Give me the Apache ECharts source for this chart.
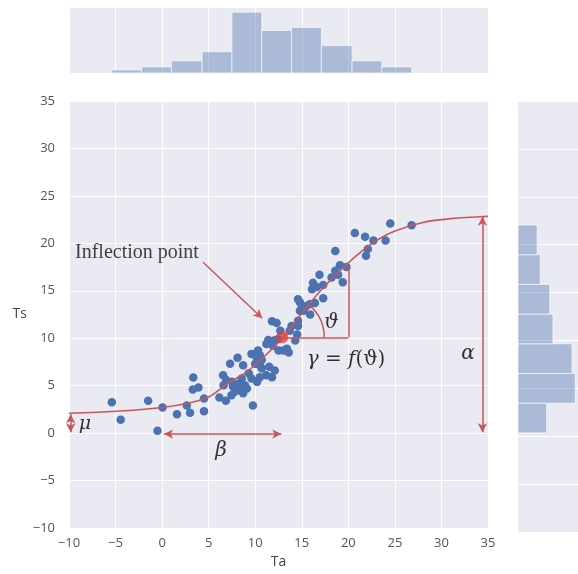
<!DOCTYPE html>
<html>
<head>
<meta charset="utf-8">
<script src="https://cdn.jsdelivr.net/npm/echarts@6/dist/echarts.min.js"></script>
<style>
  html, body { margin: 0; padding: 0; background: #fff; }
</style>
</head>
<body>
<div id="main" style="width: 578px; height: 574px"></div>
<script>
// scatter points (Ta, Ts)
const taValues = [-5.4, -4.45, -1.5, -0.5, 0.05, 1.6, 2.65, 3.0, 3.35, 3.3,
  3.9, 4.5, 4.5, 6.15, 6.85, 7.45, 6.55, 7.3, 8.1, 8.7,
  9.75, 6.9, 6.6, 7.5, 7.6, 8.2, 8.55, 7.8, 8.4, 8.7,
  9.1, 8.9, 9.3, 9.6, 10.15, 10.5, 10.7, 10.3, 10.7, 10.5,
  10.2, 9.6, 10.0, 10.5, 11.5, 11.2, 11.8, 12.1, 11.2, 11.9,
  11.4, 12.0, 12.4, 11.8, 12.3, 12.7, 12.5, 13.0, 13.6, 13.4,
  14.3, 13.7, 13.9, 14.5, 14.6, 14.8, 14.8, 15.5, 14.6, 15.0,
  15.2, 15.9, 16.4, 15.9, 14.6, 16.2, 16.1, 16.6, 17.3, 17.3,
  16.9, 18.6, 19.1, 19.8, 18.6, 18.9, 19.4, 18.2, 20.7, 21.8,
  22.7, 24.0, 22.1, 21.9, 24.5, 26.8];
const tsValues = [3.25, 1.4, 3.4, 0.25, 2.7, 2.0, 2.9, 2.15, 5.85, 4.6,
  4.8, 3.65, 2.3, 3.75, 3.4, 4.0, 6.1, 7.3, 7.95, 7.15,
  2.9, 5.6, 5.05, 5.4, 4.9, 5.2, 5.75, 4.35, 4.5, 4.2,
  4.7, 5.05, 6.3, 8.35, 8.0, 8.2, 7.7, 8.7, 6.8, 5.9,
  5.4, 5.75, 7.3, 7.15, 7.0, 6.1, 5.9, 6.6, 9.4, 9.2,
  9.8, 9.75, 9.9, 11.8, 11.6, 10.8, 8.7, 8.7, 8.5, 8.9,
  9.75, 10.8, 11.3, 10.4, 11.85, 12.9, 13.8, 13.4, 14.1, 13.2,
  12.9, 12.5, 13.7, 13.6, 11.3, 15.85, 15.15, 15.4, 15.6, 14.2,
  16.7, 19.2, 17.7, 17.5, 17.1, 16.7, 15.9, 16.4, 21.1, 20.7,
  20.3, 20.3, 19.4, 18.7, 22.1, 21.9];

// fitted sigmoid, points
const curveTa = [-10, -5, 0, 3, 5, 7, 9, 11, 13, 15, 17, 19, 21, 23, 25, 28, 31, 35];
const curveTs = [2.1, 2.3, 2.7, 3.2, 3.8, 5.2, 6.4, 8.1, 10.1, 12.6, 15.0, 17.0, 18.8, 20.3, 21.3, 22.2, 22.6, 22.85];

// marginal histograms
const topBinEdges = [-5.4, -2.2, 1.0, 4.3, 7.5, 10.7, 13.9, 17.1, 20.4, 23.6, 26.8];
const topCounts = [1, 2, 4, 7, 20, 14, 15, 9, 4, 2];
const rightBinEdges = [0.35, 3.45, 6.55, 9.65, 12.75, 15.85, 18.95, 22.05];
const rightCounts = [9, 18, 17, 11, 10, 7, 6];

// annotation anchors in data units
const inflection = [12.9, 10.1];
const angleCorner = [20.0, 17.6];

const BG = '#EAEAF2';
const BLUE = '#4C72B0';
const RED = '#C9565B';
const TICK_FONT = 'Open Sans';
const MATH_FONT = 'DejaVu Serif';

const myChart = echarts.init(document.getElementById('main'));

const minus = (v) => String(v).replace('-', '\u2212');

const topData = topCounts.map((c, i) => [topBinEdges[i], topBinEdges[i + 1], c]);
const rightData = rightCounts.map((c, i) => [rightBinEdges[i], rightBinEdges[i + 1], c]);

const barStyle = { fill: 'rgba(76,114,176,0.4)', stroke: 'rgba(255,255,255,0.6)', lineWidth: 1 };

function seg(a, b, startSym, endSym) {
  return [
    { coord: a, symbol: startSym },
    { coord: b, symbol: endSym }
  ];
}

const textLabel = (x, y, fmt, size, extra) => ({
  value: [x, y],
  label: Object.assign({
    show: true, position: 'inside', formatter: fmt,
    fontFamily: MATH_FONT, fontStyle: 'italic', fontSize: size, color: '#000'
  }, extra || {})
});

let options = {
  animation: false,
  backgroundColor: '#fff',
  grid: [
    { left: 69, top: 101, width: 419, height: 431, show: true, backgroundColor: BG, borderWidth: 0 },
    { left: 69, top: 8, width: 419, height: 65, show: true, backgroundColor: BG, borderWidth: 0 },
    { left: 518, top: 101, width: 60, height: 431, show: true, backgroundColor: BG, borderWidth: 0 }
  ],
  xAxis: [
    {
      type: 'value', gridIndex: 0, min: -10, max: 35, interval: 5,
      axisLine: { show: false }, axisTick: { show: false },
      splitLine: { lineStyle: { color: '#fff', width: 1 } },
      axisLabel: { color: '#555', fontSize: 13, fontFamily: TICK_FONT, margin: 9, formatter: minus },
      name: 'Ta', nameLocation: 'middle', nameGap: 27,
      nameTextStyle: { color: '#444', fontSize: 14, fontFamily: TICK_FONT }
    },
    {
      type: 'value', gridIndex: 1, min: -10, max: 35, interval: 5,
      axisLine: { show: false }, axisTick: { show: false }, axisLabel: { show: false },
      splitLine: { lineStyle: { color: '#fff', width: 1 } }
    },
    {
      type: 'value', gridIndex: 2, min: 0, max: Math.max(...rightCounts) * 1.05,
      axisLine: { show: false }, axisTick: { show: false }, axisLabel: { show: false },
      splitLine: { show: false }
    }
  ],
  yAxis: [
    {
      type: 'value', gridIndex: 0, min: -10, max: 35, interval: 5,
      axisLine: { show: false }, axisTick: { show: false },
      splitLine: { lineStyle: { color: '#fff', width: 1 } },
      axisLabel: { color: '#555', fontSize: 13, fontFamily: TICK_FONT, margin: 14, formatter: minus },
      name: 'Ts', nameLocation: 'middle', nameRotate: 0, nameGap: 40,
      nameTextStyle: { color: '#444', fontSize: 14, fontFamily: TICK_FONT }
    },
    {
      type: 'value', gridIndex: 1, min: 0, max: Math.max(...topCounts) * 1.07,
      axisLine: { show: false }, axisTick: { show: false }, axisLabel: { show: false },
      splitLine: { show: false }
    },
    {
      type: 'value', gridIndex: 2, min: -10, max: 35, interval: 5,
      axisLine: { show: false }, axisTick: { show: false }, axisLabel: { show: false },
      splitLine: { lineStyle: { color: '#fff', width: 1 } }
    }
  ],
  series: [
    {
      // top histogram of Ta
      type: 'custom', xAxisIndex: 1, yAxisIndex: 1, silent: true,
      data: topData, encode: { x: [0, 1], y: 2 },
      renderItem: function (params, api) {
        const p0 = api.coord([api.value(0), api.value(2)]);
        const p1 = api.coord([api.value(1), 0]);
        return { type: 'rect', shape: { x: p0[0], y: p0[1], width: p1[0] - p0[0], height: p1[1] - p0[1] }, style: barStyle };
      }
    },
    {
      // right histogram of Ts
      type: 'custom', xAxisIndex: 2, yAxisIndex: 2, silent: true,
      data: rightData, encode: { y: [0, 1], x: 2 },
      renderItem: function (params, api) {
        const p0 = api.coord([0, api.value(1)]);
        const p1 = api.coord([api.value(2), api.value(0)]);
        return { type: 'rect', shape: { x: p0[0], y: p0[1], width: p1[0] - p0[0], height: p1[1] - p0[1] }, style: barStyle };
      }
    },
    {
      type: 'scatter', name: 'Ts', xAxisIndex: 0, yAxisIndex: 0, z: 2,
      symbolSize: 8.5,
      itemStyle: { color: BLUE, opacity: 1 },
      data: taValues.map((x, i) => [x, tsValues[i]])
    },
    {
      // angle arc at the inflection point
      type: 'custom', xAxisIndex: 0, yAxisIndex: 0, z: 3, silent: true,
      data: [inflection],
      renderItem: function (params, api) {
        const c = api.coord([api.value(0), api.value(1)]);
        return {
          type: 'arc',
          shape: { cx: c[0], cy: c[1], r: 42, startAngle: -50 * Math.PI / 180, endAngle: 0, clockwise: true },
          style: { stroke: RED, lineWidth: 1.5, fill: null }
        };
      }
    },
    {
      type: 'line', name: 'fit', xAxisIndex: 0, yAxisIndex: 0, z: 4,
      smooth: 0.3, showSymbol: false, silent: true,
      lineStyle: { color: RED, width: 1.6 },
      data: curveTa.map((x, i) => [x, curveTs[i]]),
      markLine: {
        silent: true, animation: false,
        symbolSize: [7, 9],
        label: { show: false },
        lineStyle: { color: RED, width: 1.5, type: 'solid' },
        emphasis: { disabled: true },
        data: [
          seg([4.4, 18.0], [10.75, 12.1], 'none', 'arrow'),
          seg(inflection, [angleCorner[0], inflection[1]], 'none', 'none'),
          seg([angleCorner[0], inflection[1]], angleCorner, 'none', 'none'),
          seg([34.4, 0.1], [34.4, 22.8], 'arrow', 'arrow'),
          seg([-9.82, 0.1], [-9.82, 2.0], 'arrow', 'arrow'),
          seg([0.2, -0.1], [12.8, -0.1], 'arrow', 'arrow')
        ]
      }
    },
    {
      type: 'scatter', name: 'inflection', xAxisIndex: 0, yAxisIndex: 0, z: 5, silent: true,
      symbolSize: 12, itemStyle: { color: '#D9433F' },
      data: [inflection]
    },
    {
      // text annotations
      type: 'scatter', xAxisIndex: 0, yAxisIndex: 0, z: 6, silent: true,
      symbolSize: 0,
      data: [
        textLabel(-2.7, 19.0, 'Inflection point', 20, { fontFamily: 'Liberation Serif', fontStyle: 'normal', color: '#111' }),
        textLabel(18.17, 11.6, '\u03D1', 20),
        textLabel(19.75, 7.7, '{i|\u03B3} = {i|f}(\u03D1)', 20, {
          fontStyle: 'normal',
          rich: { i: { fontFamily: MATH_FONT, fontStyle: 'italic', fontSize: 20, color: '#000' } }
        }),
        textLabel(32.86, 8.4, '\u03B1', 20),
        textLabel(-8.28, 0.91, '\u03BC', 19),
        textLabel(6.33, -1.91, '\u03B2', 20)
      ]
    }
  ]
};

myChart.setOption(options);
</script>
</body>
</html>
